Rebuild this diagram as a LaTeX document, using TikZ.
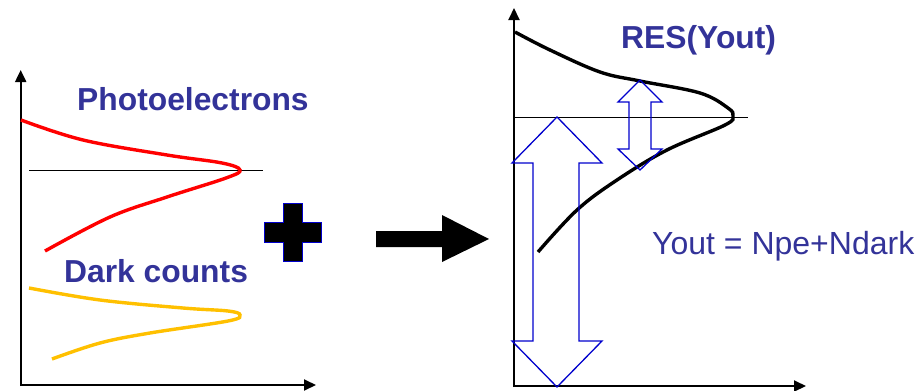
\documentclass[tikz,border=0pt]{standalone}
\usepackage{fontspec}
\setmainfont{Liberation Sans}
\usetikzlibrary{arrows.meta}
\definecolor{txtblue}{HTML}{333399}
\definecolor{arrblue}{HTML}{0000CC}
\definecolor{curvred}{HTML}{FF0000}
\definecolor{curvyel}{HTML}{FFC000}
\tikzset{
  axis/.style={line width=2pt,-{Triangle[length=12pt,width=11pt]}},
  curve/.style={line width=3.4pt,smooth,tension=0.6},
  label/.style={inner sep=0pt,anchor=base west,text=txtblue,font=\fontsize{32}{36}\selectfont},
  boldlabel/.style={label,font=\bfseries\fontsize{31.8}{36}\selectfont},
  hollow/.style={draw=arrblue,line width=1.3pt,line join=miter},
  thin/.style={line width=1pt}
}
\begin{document}
\begin{tikzpicture}[x=1pt,y=-1pt]
\useasboundingbox (0,0) rectangle (919,391);
% left plot axes
\draw[axis] (20.7,386) -- (20.7,70);
\draw[axis] (20,385) -- (316,385);
\draw[thin] (29,170) -- (263,170);
\draw[curve,curvred] plot coordinates {(21,120) (83,140) (167,155) (222,163) (240,170) (226,178) (167,197) (110,217) (45,251)};
\draw[curve,curvyel] plot coordinates {(29,288) (100,300) (183,308) (228,311) (240,315) (228,321) (150,333) (100,343) (52,359)};
\node[boldlabel] (pe) at (77,110) {Photoelectrons};
\node[boldlabel] (dc) at (64,282) {Dark counts};
% plus sign
\fill[black,draw=arrblue,line width=1pt] (283,203) -- (302,203) -- (302,222) -- (321,222) -- (321,242) -- (302,242) -- (302,261) -- (283,261) -- (283,242) -- (264,242) -- (264,222) -- (283,222) -- cycle;
% big arrow
\fill[black] (376,231) -- (442,231) -- (442,215) -- (489,239) -- (442,262) -- (442,247) -- (376,247) -- cycle;
% right plot
\draw[axis] (514,387) -- (514,8);
\draw[axis] (513,386) -- (806,386);
\draw[thin] (515,117) -- (748,117);
\draw[curve,black] plot coordinates {(515,32) (550,50) (600,72) (640,81) (700,93) (728,108) (733,116) (725,125) (667,150) (617,180) (577,210) (538,252)};
\draw[hollow] (557,117) -- (602,163) -- (579,163) -- (579,341) -- (602,341) -- (557,387) -- (512,341) -- (533,341) -- (533,163) -- (512,163) -- cycle;
\draw[hollow] (640,80) -- (662,102) -- (651,102) -- (651,149) -- (662,149) -- (640,170) -- (618,149) -- (629,149) -- (629,102) -- (618,102) -- cycle;
\node[boldlabel] (res) at (621,48) {RES(Yout)};
\node[label] (yout) at (652,254) {Yout = Npe+Ndark};
\end{tikzpicture}
\end{document}
